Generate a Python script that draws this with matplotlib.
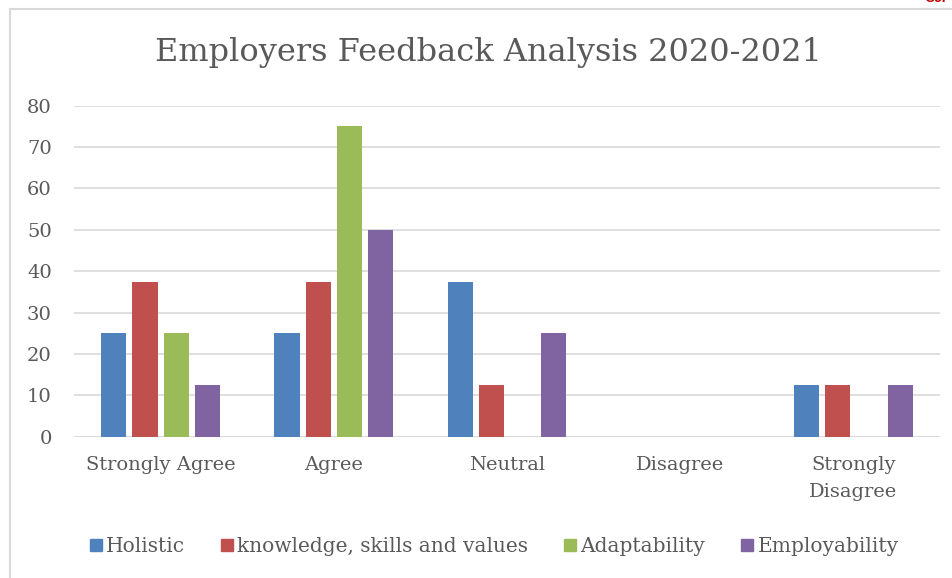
import numpy as np
import matplotlib.pyplot as plt
from matplotlib.lines import Line2D

categories = ["Strongly Agree", "Agree", "Neutral", "Disagree", "Strongly\nDisagree"]
series_names = ["Holistic", "knowledge, skills and values", "Adaptability", "Employability"]
holistic = [25, 25, 37.5, 0, 12.5]
knowledge = [37.5, 37.5, 12.5, 0, 12.5]
adaptability = [25, 75, 0, 0, 0]
employability = [12.5, 50, 25, 0, 12.5]
yticks = [0, 10, 20, 30, 40, 50, 60, 70, 80]

colors = ["#4F81BD", "#C0504D", "#9BBB59", "#8064A2"]
text_color = "#595959"
serif = ["DejaVu Serif"]

plt.rcParams["font.family"] = serif

fig = plt.figure(figsize=(9.53, 5.78), dpi=100)
W, H = 953, 578
# axes from pixel box
left, right, top, bottom = 74, 940, 105.7, 436.7
ax = fig.add_axes([left / W, 1 - bottom / H, (right - left) / W, (bottom - top) / H])

x = np.arange(len(categories))
width = 0.145
step = 0.18
all_series = [holistic, knowledge, adaptability, employability]
for i, vals in enumerate(all_series):
    ax.bar(x + (i - 1.5) * step, vals, width, color=colors[i], zorder=3)

ax.set_xlim(-0.5, len(categories) - 0.5)
ax.set_ylim(0, 80)
ax.set_yticks(yticks)
ax.set_xticks(x)
ax.set_xticklabels(categories, fontsize=14, color=text_color, linespacing=1.65)
ax.tick_params(axis="y", labelsize=14, labelcolor=text_color, length=0, pad=16)
ax.tick_params(axis="x", length=0, pad=14)
ax.grid(axis="y", color="#D9D9D9", linewidth=1.2, zorder=0)
for s in ax.spines.values():
    s.set_visible(False)
ax.axhline(0, color="#D9D9D9", linewidth=1.2, zorder=2)

fig.text(488 / W, 1 - 52 / H, "Employers Feedback Analysis 2020-2021",
         ha="center", va="center", fontsize=23, color=text_color)

handles = [Line2D([], [], marker="s", linestyle="none", markersize=9,
                  markerfacecolor=c, markeredgecolor=c) for c in colors]
fig.legend(handles, series_names, loc="center", bbox_to_anchor=(492 / W, 1 - 547 / H),
           ncol=4, frameon=False, fontsize=14.5, handletextpad=0.0, columnspacing=1.6,
           handlelength=1.0, labelcolor=text_color)

# outer frame lines
fig.add_artist(Line2D([10 / W, 10 / W], [0, 1 - 9 / H], transform=fig.transFigure,
                      color="#D9D9D9", linewidth=1.5))
fig.add_artist(Line2D([10 / W, 1], [1 - 9 / H, 1 - 9 / H], transform=fig.transFigure,
                      color="#D9D9D9", linewidth=1.5))
fig.text(924 / W, 1 + 2 / H, "Ccr", ha="left", va="center", fontsize=10, color="#C00000",
         fontweight="bold", family="Liberation Sans")

fig.savefig("out.png", dpi=100)
